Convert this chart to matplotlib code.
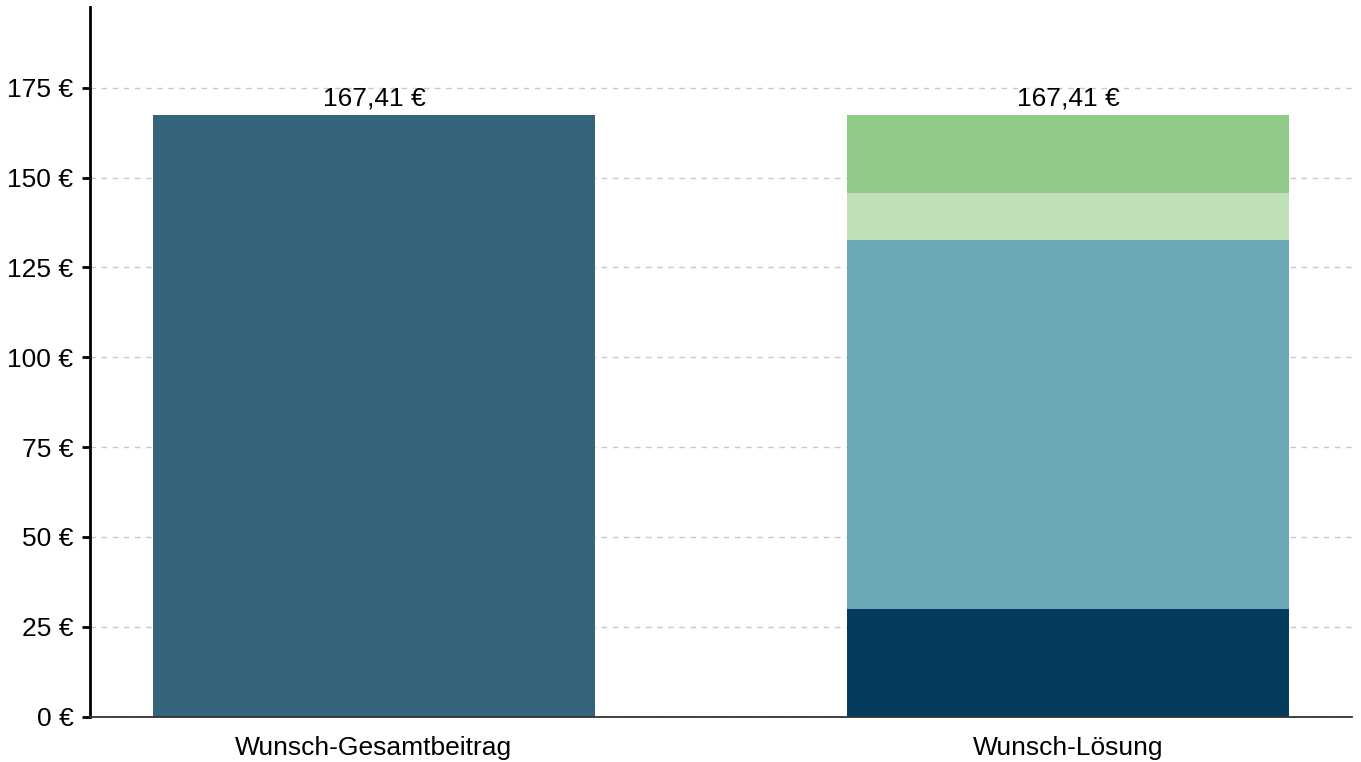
import matplotlib
matplotlib.use("Agg")
import matplotlib.pyplot as plt

plt.rcParams['font.family'] = ['Liberation Sans', 'DejaVu Sans']

categories = ["Wunsch-Gesamtbeitrag", "Wunsch-Lösung"]
total_value = [167.41]
segment_values = [29.9, 102.8, 13.1, 21.61]
segment_colors = ["#053b5c", "#6ca7b8", "#bfe0b9", "#91cb8a"]
total_color = "#35657c"
yticks = [0, 25, 50, 75, 100, 125, 150, 175]

FS = 19

fig = plt.figure(figsize=(13.61, 7.62), dpi=100)
ax = fig.add_axes([90/1361, 1 - 716.5/762, (1352-90)/1361, (716.5-7)/762])

width = 0.637
ax.bar([0], total_value, width=width, color=total_color, zorder=3)
bottom = 0
for v, c in zip(segment_values, segment_colors):
    ax.bar([1], [v], bottom=bottom, width=width, color=c, zorder=3)
    bottom += v

def fmt(v):
    return f"{v:.2f}".replace(".", ",") + " €"

ax.text(0, total_value[0] + 1.2, fmt(total_value[0]), ha="center", va="bottom", fontsize=FS, zorder=4)
ax.text(1, sum(segment_values) + 1.2, fmt(sum(segment_values)), ha="center", va="bottom", fontsize=FS, zorder=4)

ax.set_xlim(-0.409, 1.409)
ax.set_ylim(0, 197.5)
ax.set_yticks(yticks)
ax.set_yticklabels([f"{t} €" for t in yticks], fontsize=FS)
ax.set_xticks([0, 1])
ax.set_xticklabels(categories, fontsize=FS)
ax.tick_params(axis="x", length=0, pad=14)
ax.tick_params(axis="y", length=6, width=2, pad=6)

ax.grid(axis="y", linestyle=(0, (4, 4)), color="#c8c8c8", linewidth=1, zorder=0)
for s in ["top", "right"]:
    ax.spines[s].set_visible(False)
ax.spines["left"].set_linewidth(2)
ax.spines["left"].set_color("black")
ax.spines["bottom"].set_linewidth(1.3)
ax.spines["bottom"].set_color("#333333")
ax.spines["bottom"].set_zorder(5)

fig.savefig("out.png", dpi=100)
